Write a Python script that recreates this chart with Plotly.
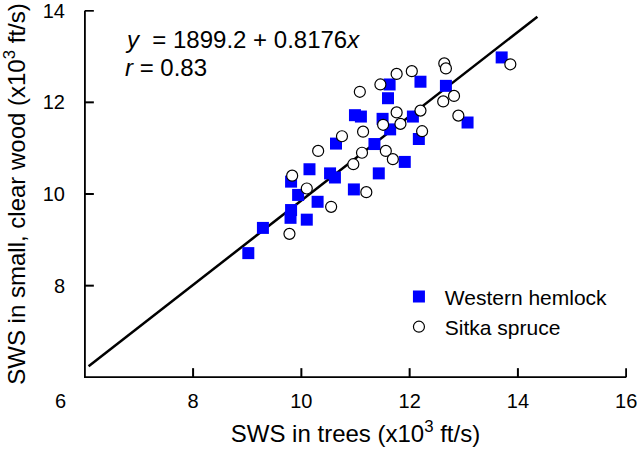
import plotly.graph_objects as go

# Western hemlock (x: SWS in trees, y: SWS in small clear wood), x10^3 ft/s
hemlock_x = [13.70, 12.20, 12.67, 11.63, 11.60, 10.99, 11.10, 11.50, 12.06, 13.07,
             11.64, 12.17, 10.64, 11.35, 11.91, 10.15, 10.53, 10.62, 11.43, 9.81,
             10.97, 9.94, 10.30, 9.81, 9.80, 10.10, 9.29, 9.02]
hemlock_y = [12.98, 12.45, 12.36, 12.39, 12.09, 11.72, 11.69, 11.64, 11.69, 11.56,
             11.41, 11.20, 11.10, 11.09, 10.70, 10.54, 10.45, 10.36, 10.45, 10.27,
             10.10, 9.98, 9.83, 9.65, 9.48, 9.44, 9.26, 8.71]

# Sitka spruce
spruce_x = [13.86, 12.64, 12.67, 12.04, 11.76, 11.46, 11.08, 12.82, 12.62, 12.90,
            11.76, 12.20, 11.83, 11.51, 12.23, 11.14, 10.75, 10.31, 11.12, 11.56,
            11.69, 10.96, 9.83, 10.10, 11.20, 10.55, 9.78]
spruce_y = [12.83, 12.85, 12.74, 12.68, 12.62, 12.39, 12.23, 12.14, 12.02, 11.71,
            11.78, 11.82, 11.53, 11.51, 11.37, 11.36, 11.26, 10.94, 10.90, 10.94,
            10.76, 10.65, 10.40, 10.12, 10.04, 9.72, 9.13]

# Fitted line as drawn (end points)
line_x = [6.07, 14.36]
line_y = [6.24, 13.87]

x_ticks = [8, 10, 12, 14, 16]
y_ticks = [8, 10, 12, 14]
x_min, x_max = 6, 16
y_min, y_max = 6, 14

FONT = "Liberation Sans, Arial, sans-serif"
FS = 20
PAD = 0.015          # small range padding so the frame lines are not clipped
TX = 0.2             # inside tick length on x axis (y units)
TY = 0.167           # inside tick length on y axis (x units)

fig = go.Figure()

# frame (axis lines) and inside ticks, built from the axis limits and tick arrays
fx, fy = [x_max, x_min, x_min], [y_min, y_min, y_max]
for v in x_ticks:
    fx += [None, v, v]
    fy += [None, y_min, y_min + TX]
for v in y_ticks:
    fx += [None, x_min, x_min + TY]
    fy += [None, v, v]
fig.add_trace(go.Scatter(x=fx, y=fy, mode="lines", line=dict(color="black", width=2),
                         showlegend=False, hoverinfo="skip"))

fig.add_trace(go.Scatter(x=line_x, y=line_y, mode="lines",
                         line=dict(color="black", width=2.5),
                         showlegend=False, hoverinfo="skip"))
fig.add_trace(go.Scatter(x=hemlock_x, y=hemlock_y, mode="markers",
                         name="&nbsp;Western hemlock",
                         marker=dict(symbol="square", size=12, color="#0000FF",
                                     line=dict(width=0))))
fig.add_trace(go.Scatter(x=spruce_x, y=spruce_y, mode="markers",
                         name="&nbsp;Sitka spruce",
                         marker=dict(symbol="circle", size=11, color="white",
                                     line=dict(width=1.2, color="black"))))

fig.update_layout(
    width=637, height=456,
    margin=dict(l=84, r=10, t=10, b=78),
    paper_bgcolor="white", plot_bgcolor="white",
    font=dict(family=FONT, size=FS, color="black"),
    showlegend=True,
    legend=dict(x=0.58, y=0.18, xanchor="left", yanchor="middle",
                bgcolor="rgba(0,0,0,0)", font=dict(size=21),
                itemwidth=30, tracegroupgap=0),
    xaxis=dict(range=[x_min - PAD, x_max + PAD], tickmode="array", tickvals=x_ticks,
               ticktext=[str(v) for v in x_ticks],
               ticks="outside", ticklen=5, tickwidth=1, tickcolor="rgba(255,255,255,0)",
               showline=False, showgrid=False, zeroline=False,
               automargin=False, ticklabeloverflow="allow",
               title=dict(text="SWS in trees (x10<sup>3</sup> ft/s)", standoff=14)),
    yaxis=dict(range=[y_min - PAD, y_max + PAD], tickmode="array", tickvals=y_ticks,
               ticktext=[str(v) for v in y_ticks],
               ticks="outside", ticklen=14, tickwidth=1, tickcolor="rgba(255,255,255,0)",
               showline=False, showgrid=False, zeroline=False,
               automargin=False, ticklabeloverflow="allow",
               title=dict(text="SWS in small, clear wood (x10<sup>3</sup> ft/s)", standoff=14)),
)

fig.add_annotation(x=6.7, y=13.38, xref="x", yref="y", xanchor="left", yanchor="middle",
                   text="<i>y</i>  = 1899.2 + 0.8176<i>x</i>", showarrow=False,
                   font=dict(size=24))
fig.add_annotation(x=6.7, y=12.75, xref="x", yref="y", xanchor="left", yanchor="middle",
                   text="<i>r</i> = 0.83", showarrow=False, font=dict(size=24))
fig.add_annotation(x=-0.043, y=-0.063, xref="paper", yref="paper",
                   xanchor="center", yanchor="middle", text="6", showarrow=False,
                   font=dict(size=FS))

fig.write_html("out.html")
